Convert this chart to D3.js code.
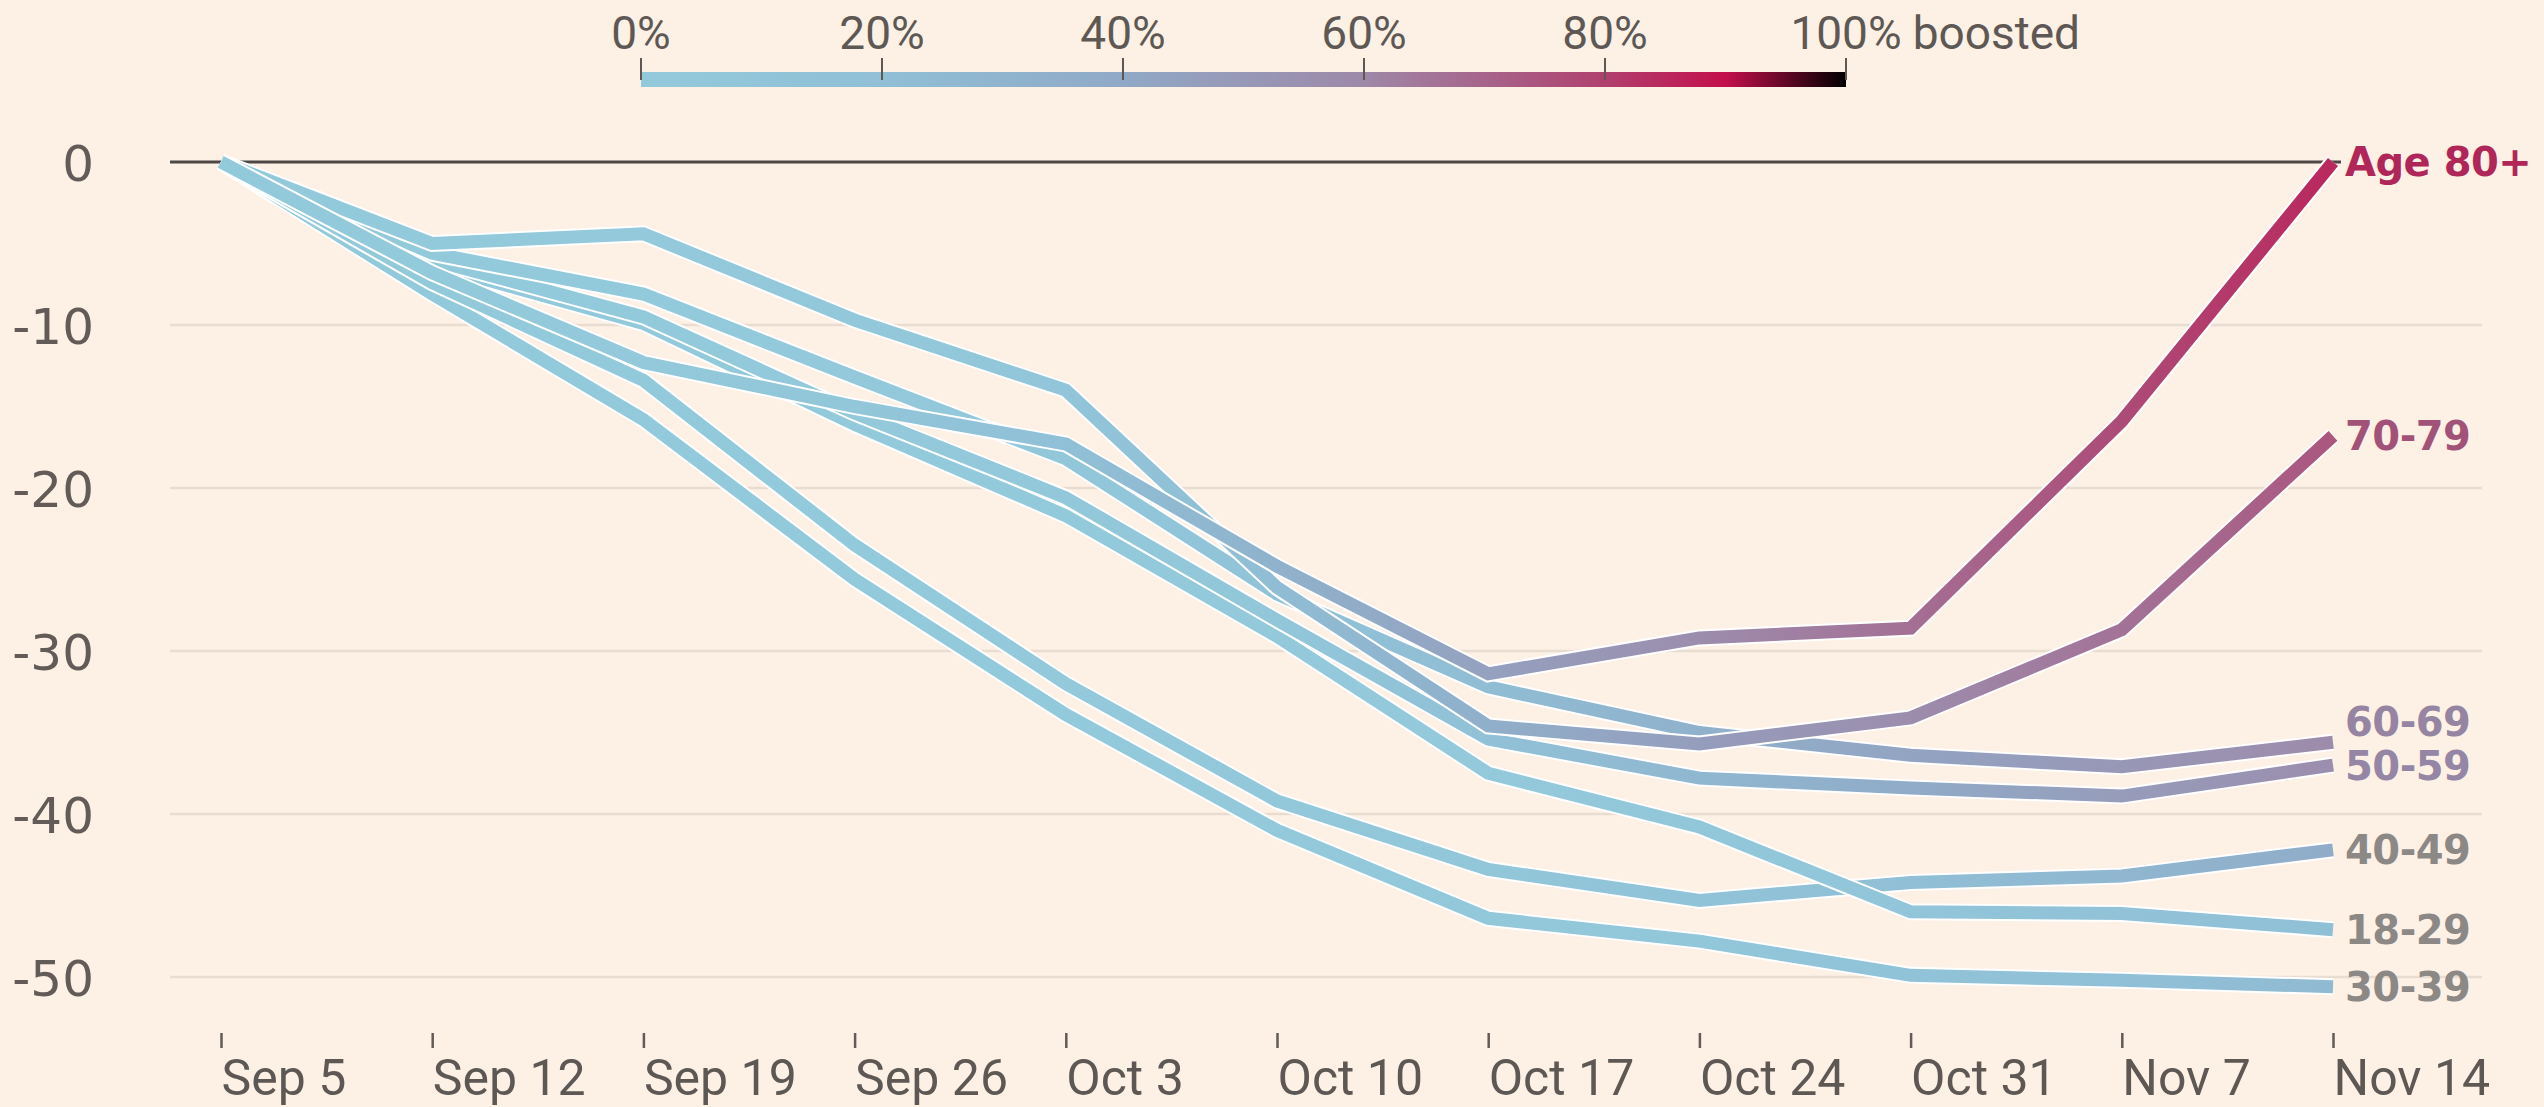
<!DOCTYPE html>
<html>
<head>
<meta charset="utf-8">
<script src="https://cdn.jsdelivr.net/npm/d3@7"></script>
<style>
  body { margin: 0; background: #fdf0e5; }
  svg { display: block; }
</style>
</head>
<body>
<div id="chart"></div>
<script>
// weekly dates
const weeks = ["2021-09-05", "2021-09-12", "2021-09-19", "2021-09-26", "2021-10-03",
  "2021-10-10", "2021-10-17", "2021-10-24", "2021-10-31", "2021-11-07", "2021-11-14"];

// % change in cases since Sep 5, by age group
const ages = ["18-29", "30-39", "40-49", "50-59", "60-69", "70-79", "Age 80+"];
const change18to29 = [0, -6.3, -9.9, -16.1, -21.7, -29.1, -37.5, -40.8, -46.0, -46.1, -47.1];
const change30to39 = [0, -8.1, -15.8, -25.6, -33.9, -41.0, -46.4, -47.8, -49.9, -50.2, -50.6];
const change40to49 = [0, -7.4, -13.4, -23.5, -32.0, -39.2, -43.4, -45.3, -44.2, -43.8, -42.2];
const change50to59 = [0, -6.0, -9.5, -15.4, -20.6, -28.1, -35.4, -37.8, -38.4, -38.9, -37.0];
const change60to69 = [0, -5.6, -8.1, -13.2, -18.2, -26.5, -32.2, -35.0, -36.4, -37.1, -35.6];
const change70to79 = [0, -5.0, -4.4, -9.7, -14.0, -26.1, -34.6, -35.7, -34.1, -28.7, -16.8];
const change80plus = [0, -6.8, -12.3, -15.0, -17.3, -24.8, -31.4, -29.2, -28.6, -15.9, 0];

// share boosted (%) at each week, drives the line colour
const boosted18to29 = [0, 0, 0, 0, 0, 1, 2, 5, 9, 14, 19];
const boosted30to39 = [0, 0, 0, 0, 0, 1, 3, 7, 12, 18, 25];
const boosted40to49 = [0, 0, 0, 0, 1, 3, 7, 13, 20, 28, 37];
const boosted50to59 = [0, 0, 0, 1, 3, 8, 16, 27, 38, 48, 57];
const boosted60to69 = [0, 0, 0, 1, 5, 12, 22, 33, 43, 51, 58];
const boosted70to79 = [0, 0, 1, 3, 10, 22, 35, 47, 57, 66, 74];
const boosted80plus = [0, 0, 2, 7, 18, 32, 45, 57, 67, 77, 85];

const yTicks = [0, -10, -20, -30, -40, -50];
const legendTicks = [0, 20, 40, 60, 80, 100];
const boostStops = [0, 20, 40, 60, 80, 90, 100];
const boostPalette = ["#93cadb", "#90bfd6", "#90a9c6", "#9e88a8", "#b0406e", "#c30f4b", "#000000"];

const changes = [change18to29, change30to39, change40to49, change50to59, change60to69, change70to79, change80plus];
const boosts = [boosted18to29, boosted30to39, boosted40to49, boosted50to59, boosted60to69, boosted70to79, boosted80plus];

const width = 2544, height = 1107;
const parseTime = d3.timeParse("%Y-%m-%d");
const dates = weeks.map(parseTime);

const series = ages.map((a, i) => ({
  name: a,
  values: dates.map((d, j) => ({ date: d, v: changes[i][j], b: boosts[i][j] }))
}));

const svg = d3.select("#chart")
  .append("svg")
  .attr("width", width)
  .attr("height", height);

const defs = svg.append("defs");

let x = d3.scaleTime()
  .domain(d3.extent(dates))
  .range([221, 2333]);

let y = d3.scaleLinear()
  .domain([-50, 0])
  .range([977, 162]);

const colour = d3.scaleLinear()
  .domain(boostStops)
  .range(boostPalette)
  .interpolate(d3.interpolateRgb);

// grid
svg.append("g")
  .selectAll("line")
  .data(yTicks.filter(d => d !== 0))
  .enter().append("line")
  .attr("x1", 170).attr("x2", 2482)
  .attr("y1", d => y(d)).attr("y2", d => y(d))
  .attr("stroke", "#e9dcd1")
  .attr("stroke-width", 2.5);

svg.append("line")
  .attr("x1", 170).attr("x2", x(dates[dates.length - 1]) + 8)
  .attr("y1", y(0)).attr("y2", y(0))
  .attr("stroke", "#4d4845")
  .attr("stroke-width", 3);

// y axis
const yAxis = svg.append("g")
  .attr("transform", "translate(94,0)")
  .call(d3.axisLeft(y).tickValues(yTicks).tickSize(0).tickPadding(0).tickFormat(d => String(d)));
yAxis.select(".domain").remove();
yAxis.selectAll("text")
  .attr("dy", "0.36em")
  .style("font-family", "'DejaVu Sans', sans-serif")
  .style("font-size", "50px")
  .attr("fill", "#625b57");

// x axis
const xAxis = svg.append("g")
  .attr("transform", "translate(0,1033)")
  .call(d3.axisBottom(x).tickValues(dates).tickSize(15).tickFormat(d3.timeFormat("%b %-d")));
xAxis.select(".domain").remove();
xAxis.selectAll("line").attr("stroke", "#625b57").attr("stroke-width", 2.5);
xAxis.selectAll("text")
  .attr("text-anchor", "start")
  .attr("x", 0)
  .attr("y", 62)
  .attr("dy", 0)
  .style("font-family", "Roboto, sans-serif")
  .style("font-size", "50px")
  .attr("fill", "#5e5854");

// lines, coloured along x by share boosted
const line = d3.line()
  .x(d => x(d.date))
  .y(d => y(d.v));

const x0 = x.range()[0], x1 = x.range()[1];
const order = [1, 2, 0, 3, 4, 5, 6];

order.forEach(i => {
  const s = series[i];
  const gid = "grad" + i;
  const grad = defs.append("linearGradient")
    .attr("id", gid)
    .attr("gradientUnits", "userSpaceOnUse")
    .attr("x1", x0).attr("x2", x1)
    .attr("y1", 0).attr("y2", 0);
  grad.selectAll("stop")
    .data(s.values)
    .enter().append("stop")
    .attr("offset", d => (x(d.date) - x0) / (x1 - x0))
    .attr("stop-color", d => colour(d.b));

  svg.append("path")
    .datum(s.values)
    .attr("d", line)
    .attr("fill", "none")
    .attr("stroke", "#ffffff")
    .attr("stroke-width", 17)
    .attr("stroke-linejoin", "miter")
    .attr("stroke-linecap", "butt");

  svg.append("path")
    .datum(s.values)
    .attr("d", line)
    .attr("fill", "none")
    .attr("stroke", "url(#" + gid + ")")
    .attr("stroke-width", 13)
    .attr("stroke-linejoin", "miter")
    .attr("stroke-linecap", "butt");
});

// end labels, nudged apart
const labels = series.map(s => {
  const last = s.values[s.values.length - 1];
  return { name: s.name, b: last.b, ly: y(last.v) };
}).sort((a, b) => b.ly - a.ly);
for (let i = 1; i < labels.length; i++) {
  if (labels[i].ly > labels[i - 1].ly - 44) labels[i].ly = labels[i - 1].ly - 44;
}

svg.append("g")
  .selectAll("text")
  .data(labels)
  .enter().append("text")
  .attr("x", x1 + 12)
  .attr("y", d => d.ly)
  .attr("dy", "0.36em")
  .style("font-family", "'DejaVu Sans', sans-serif")
  .style("font-size", "40px")
  .style("font-weight", "bold")
  .style("letter-spacing", "-0.5px")
  .attr("fill", d => d.b < 45 ? "#8c8885" : d3.color(colour(d.b)).darker(0.15))
  .text(d => d.name);

// legend
const lx = d3.scaleLinear().domain([0, 100]).range([641, 1846]);

const lgrad = defs.append("linearGradient")
  .attr("id", "legendGrad")
  .attr("gradientUnits", "userSpaceOnUse")
  .attr("x1", lx(0)).attr("x2", lx(100))
  .attr("y1", 0).attr("y2", 0);
lgrad.selectAll("stop")
  .data(boostStops)
  .enter().append("stop")
  .attr("offset", d => d / 100)
  .attr("stop-color", d => colour(d));

const legend = svg.append("g");
legend.append("rect")
  .attr("x", lx(0))
  .attr("y", 72)
  .attr("width", lx(100) - lx(0))
  .attr("height", 15)
  .attr("fill", "url(#legendGrad)");

legend.selectAll("line")
  .data(legendTicks)
  .enter().append("line")
  .attr("x1", d => lx(d)).attr("x2", d => lx(d))
  .attr("y1", 58).attr("y2", 80)
  .attr("stroke", "#5e5854")
  .attr("stroke-width", 2);

legend.selectAll("text.tick")
  .data(legendTicks)
  .enter().append("text")
  .attr("class", "tick")
  .attr("x", d => lx(d))
  .attr("y", 49)
  .attr("text-anchor", "middle")
  .style("font-family", "Roboto, sans-serif")
  .style("font-size", "46px")
  .attr("fill", "#5e5854")
  .text(d => d + "%");

const lastTick = legend.selectAll("text.tick").filter(d => d === 100).node();
const bb = lastTick.getBBox();
legend.append("text")
  .attr("x", bb.x + bb.width + 11)
  .attr("y", 49)
  .style("font-family", "Roboto, sans-serif")
  .style("font-size", "46px")
  .attr("fill", "#5e5854")
  .text("boosted");
</script>
</body>
</html>
